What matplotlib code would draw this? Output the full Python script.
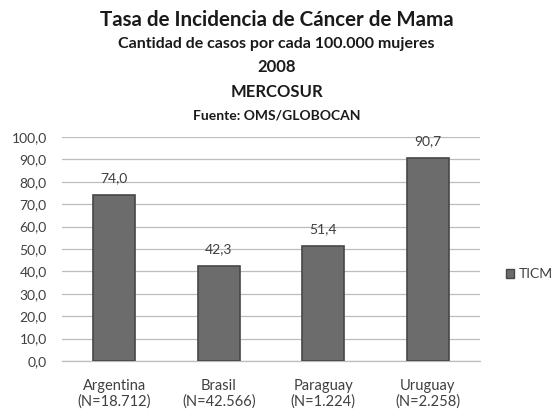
import matplotlib
matplotlib.use("Agg")
import matplotlib.pyplot as plt
from matplotlib.patches import Patch

plt.rcParams['font.family'] = ['Lato', 'DejaVu Sans']

categories = ["Argentina\n(N=18.712)", "Brasil\n(N=42.566)", "Paraguay\n(N=1.224)", "Uruguay\n(N=2.258)"]
values = [74.0, 42.3, 51.4, 90.7]
value_labels = ["74,0", "42,3", "51,4", "90,7"]
yticks = [0, 10, 20, 30, 40, 50, 60, 70, 80, 90, 100]
ytick_labels = ["0,0", "10,0", "20,0", "30,0", "40,0", "50,0", "60,0", "70,0", "80,0", "90,0", "100,0"]
series_name = "TICM"

fig = plt.figure(figsize=(5.53, 4.11), dpi=100)
ax = fig.add_axes([0.1121, 0.1217, 0.868 - 0.1121, 0.6667 - 0.1217])

x = list(range(len(categories)))
bars = ax.bar(x, values, width=0.40, color="#6c6c6c", edgecolor="#474747", linewidth=1.2, zorder=3)
for xi, v, lab in zip(x, values, value_labels):
    ax.annotate(lab, (xi, v), xytext=(0, 8), textcoords="offset points",
                ha="center", va="bottom", fontsize=10, color="#404040")

ax.set_xlim(-0.5, len(categories) - 0.5)
ax.set_ylim(0, 100)
ax.set_yticks(yticks)
ax.set_yticklabels(ytick_labels, fontsize=10, color="#404040")
ax.set_xticks(x)
ax.set_xticklabels(categories, fontsize=10.5, color="#404040", linespacing=1.12)
ax.tick_params(axis='both', length=0)
ax.tick_params(axis='y', pad=11)
ax.tick_params(axis='x', pad=13)
ax.grid(axis='y', color="#bdbdbd", linewidth=0.9, zorder=0)
for s in ["top", "right", "left"]:
    ax.spines[s].set_visible(False)
ax.spines["bottom"].set_color("#bdbdbd")
ax.spines["bottom"].set_linewidth(0.9)

leg = fig.legend(handles=[Patch(facecolor="#6c6c6c", edgecolor="#474747", label=series_name)],
                 loc="center left", bbox_to_anchor=(506 / 553, 1 - 274 / 411), frameon=False,
                 fontsize=10, handlelength=0.6, handleheight=0.6, handletextpad=0.3,
                 borderpad=0, borderaxespad=0, labelcolor="#404040")

fig.text(0.5, 1 - 20 / 411, "Tasa de Incidencia de Cáncer de Mama", ha="center", va="center",
         fontsize=14.8, fontweight="bold", color="#1a1a1a")
fig.text(0.5, 1 - 44 / 411, "Cantidad de casos por cada 100.000 mujeres", ha="center", va="center",
         fontsize=11.5, fontweight="bold", color="#1a1a1a")
fig.text(0.5, 1 - 67 / 411, "2008", ha="center", va="center",
         fontsize=12, fontweight="bold", color="#1a1a1a")
fig.text(0.5, 1 - 92 / 411, "MERCOSUR", ha="center", va="center",
         fontsize=12, fontweight="bold", color="#1a1a1a")
fig.text(0.5, 1 - 115 / 411, "Fuente: OMS/GLOBOCAN", ha="center", va="center",
         fontsize=10, fontweight="bold", color="#1a1a1a")

fig.savefig("out.png", dpi=100, facecolor="white")
